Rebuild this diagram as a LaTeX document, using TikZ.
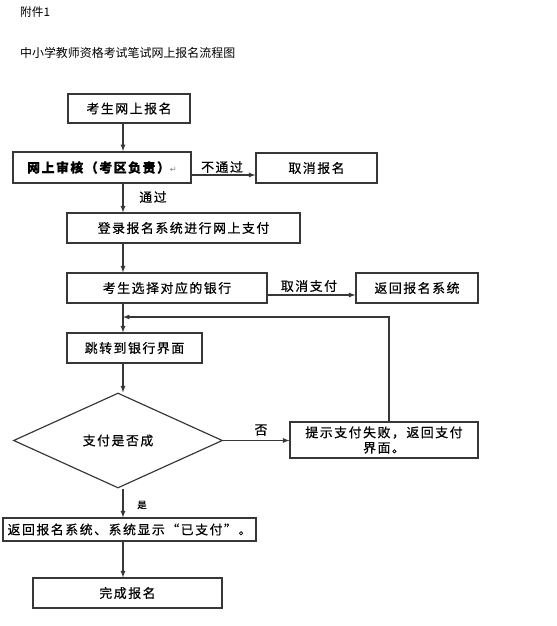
\documentclass[tikz,border=0pt]{standalone}
\usepackage{fontspec}
\usetikzlibrary{shapes.geometric,positioning,calc}
\setmainfont{Noto Sans CJK SC}
\newfontfamily\boxfont[LetterSpace=12,FakeBold=0.5]{Noto Sans CJK SC}
\newfontfamily\markfont{DejaVu Sans}
\definecolor{edgegray}{RGB}{55,55,55}
\tikzstyle{stepbox}=[rectangle, draw=edgegray, line width=1pt, inner sep=1pt, font=\fontsize{11}{13}\boxfont]
\tikzstyle{choice}=[diamond, draw=edgegray, line width=1pt, aspect=2.2, inner sep=0pt, font=\fontsize{11}{13}\boxfont]
\tikzstyle{flow}=[-latex, line width=.9pt, color=edgegray]
\tikzstyle{lbl}=[font=\fontsize{11}{13}\boxfont, inner sep=1pt]
\tikzset{x=0.03cm}
\tikzset{y=-0.03cm}

\begin{document}
\begin{tikzpicture}
  \useasboundingbox (0,0) rectangle (556,626);
  \node[anchor=west, font=\fontsize{10}{12}\selectfont] (annex) at (16,12) {附件1};
  \node[anchor=west, font=\fontsize{10.2}{12}\selectfont] (title) at (16,53) {中小学教师资格考试笔试网上报名流程图};

  %% main column
  \coordinate (axis) at (123,0);
  \node[stepbox, minimum width=122*0.03cm, minimum height=29*0.03cm] (B1) at (129,108.5) {考生网上报名};
  \node[stepbox, line width=1.5pt, minimum width=178*0.03cm, minimum height=31*0.03cm, font=\fontsize{11}{13}\boxfont\bfseries] (B2) at (102,167.5) {网上审核（考区负责）{\markfont\mdseries\fontsize{7}{8}\selectfont\color{gray}↵}};
  \node[stepbox, minimum width=121*0.03cm, minimum height=30*0.03cm] (B3) at (316.5,168) {取消报名};
  \node[stepbox, minimum width=233*0.03cm, minimum height=30*0.03cm] (B4) at (183.5,228) {登录报名系统进行网上支付};
  \node[stepbox, minimum width=200*0.03cm, minimum height=30*0.03cm] (B5) at (167,288) {考生选择对应的银行};
  \node[stepbox, minimum width=122*0.03cm, minimum height=30*0.03cm] (B6) at (417,288) {返回报名系统};
  \node[stepbox, minimum width=135*0.03cm, minimum height=30*0.03cm] (B7) at (134.5,348) {跳转到银行界面};
  \node[choice, minimum width=209*0.03cm, minimum height=95*0.03cm] (D1) at (118,440.5) {支付是否成};
  \node[stepbox, minimum width=188*0.03cm, minimum height=36*0.03cm, align=center] (B8) at (384,440) {提示支付失败，返回支付\\界面。};
  \node[stepbox, minimum width=253*0.03cm, minimum height=23*0.03cm] (B9) at (129.5,529.5) {返回报名系统、系统显示“已支付”。};
  \node[stepbox, minimum width=189*0.03cm, minimum height=30*0.03cm] (B10) at (127.5,593) {完成报名};

  %% connectors
  \coordinate (loop) at (389,317);
  \coordinate (join) at (123,317);
  \draw[flow] (B1.south -| axis) -- (B2.north -| axis);
  \draw[flow] (B2.east |- B3.west) ++(0,7) coordinate (c23) -- (B3.west |- c23);
  \draw[flow] (B2.south -| axis) -- (B4.north -| axis);
  \draw[flow] (B4.south -| axis) -- (B5.north -| axis);
  \draw[flow] (B5.east |- B6.west) ++(0,7) coordinate (c56) -- (B6.west |- c56);
  \draw[flow] (B5.south -| axis) -- (B7.north -| axis);
  \draw[flow] (B8.north -| loop) -- (loop) -- (join);
  \draw[flow] (B7.south -| axis) -- (D1.north -| axis);
  \draw[flow] (D1.east) -- (B8.west |- D1.east);
  \draw[flow] (D1.south -| axis) -- (B9.north -| axis);
  \draw[flow] (B9.south -| axis) -- (B10.north -| axis);

  %% labels
  \node[lbl] (no1) at (222,167) {不通过};
  \node[lbl] (yes1) at (153,197) {通过};
  \node[lbl] (cancel) at (309,286) {取消支付};
  \node[lbl] (no2) at (261,430) {否};
  \node[lbl, font=\fontsize{8}{10}\boxfont] (yes2) at (142,505) {是};
\end{tikzpicture}
\end{document}
